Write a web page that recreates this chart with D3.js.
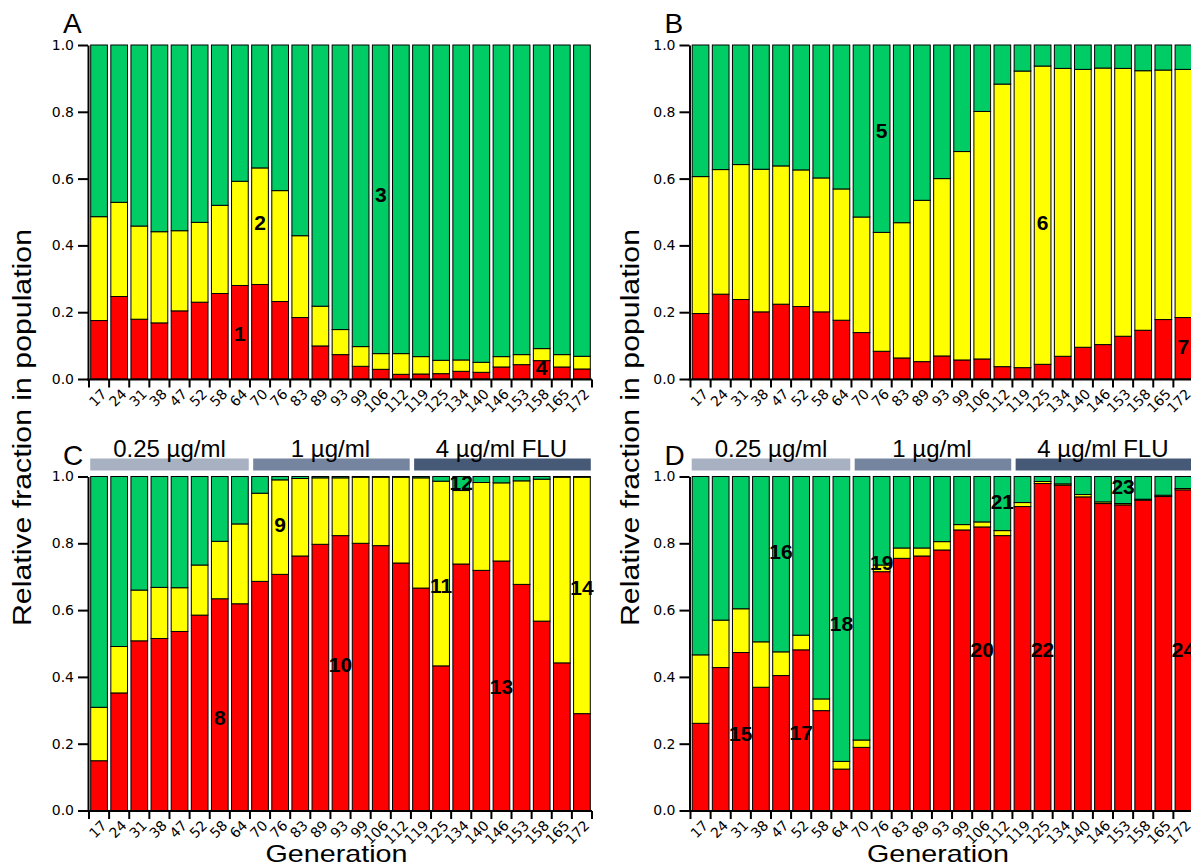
<!DOCTYPE html>
<html>
<head>
<meta charset="utf-8">
<script src="https://cdn.jsdelivr.net/npm/d3@7"></script>
<style>
  html, body { margin: 0; padding: 0; background: #fff; }
  svg { display: block; }
</style>
</head>
<body>
<svg id="chart" width="1191" height="866"></svg>
<script>
// ---------------- DATA ----------------
const generations = ["17","24","31","38","47","52","58","64","70","76","83","89","93","99","106","112","119","125","134","140","146","153","158","165","172"];
const yTickValues = [0, 0.2, 0.4, 0.6, 0.8, 1.0];
const seriesKeys = ["red", "yellow", "green"];

// Panel A
const redA    = [.175,.247,.179,.168,.204,.230,.256,.280,.283,.232,.184,.099,.073,.038,.029,.014,.015,.016,.023,.020,.036,.043,.055,.036,.030];
const yellowA = [.311,.282,.279,.273,.240,.239,.264,.312,.349,.332,.245,.119,.075,.059,.047,.062,.052,.040,.034,.030,.031,.030,.036,.037,.038];
const greenA  = [.514,.471,.542,.559,.556,.531,.480,.408,.368,.436,.571,.782,.852,.903,.924,.924,.933,.944,.943,.950,.933,.927,.909,.927,.932];
// Panel B
const redB    = [.196,.254,.238,.201,.224,.217,.201,.176,.139,.083,.063,.052,.069,.057,.060,.037,.034,.044,.068,.095,.103,.128,.146,.178,.184];
const yellowB = [.410,.373,.404,.427,.414,.409,.401,.393,.346,.356,.405,.483,.531,.624,.741,.846,.888,.893,.862,.832,.828,.802,.777,.747,.743];
const greenB  = [.394,.373,.358,.372,.362,.374,.398,.431,.515,.561,.532,.465,.400,.319,.199,.117,.078,.063,.070,.073,.069,.070,.077,.075,.073];
// Panel C
const redC    = [.149,.352,.508,.515,.536,.585,.634,.619,.686,.707,.762,.797,.823,.800,.793,.741,.666,.433,.738,.719,.747,.677,.567,.442,.290];
const yellowC = [.160,.139,.152,.153,.131,.150,.172,.239,.264,.283,.232,.199,.173,.198,.205,.257,.330,.553,.220,.263,.234,.310,.425,.556,.708];
const greenC  = [.691,.509,.340,.332,.333,.265,.194,.142,.050,.010,.006,.004,.004,.002,.002,.002,.004,.014,.042,.018,.019,.013,.008,.002,.002];
// Panel D
const redD    = [.261,.428,.473,.369,.404,.481,.299,.124,.189,.715,.755,.762,.780,.840,.849,.823,.910,.979,.974,.939,.919,.915,.929,.940,.960];
const yellowD = [.205,.142,.131,.136,.071,.044,.035,.023,.022,.020,.031,.024,.025,.016,.015,.015,.012,.006,.004,.007,.005,.004,.003,.004,.004];
const greenD  = [.534,.430,.396,.495,.525,.475,.666,.853,.789,.265,.214,.214,.195,.144,.136,.162,.078,.015,.022,.054,.076,.081,.068,.056,.036];

// Clone annotations: label, generation, y-position (fraction)
const labelsA = [["1","64",.137],["2","70",.468],["3","106",.553],["4","158",.034]];
const labelsB = [["5","76",.744],["6","125",.468],["7","172",.097]];
const labelsC = [["8","58",.278],["9","76",.855],["10","93",.438],["11","125",.673],["12","134",.983],["13","146",.37],["14","172",.668]];
const labelsD = [["15","31",.232],["16","47",.776],["17","52",.234],["18","64",.561],["19","76",.743],["20","106",.481],["21","112",.925],["22","125",.481],["23","153",.97],["24","172",.481]];

// Drug concentration phases (first and last generation of each)
const phaseNames = ["0.25 µg/ml", "1 µg/ml", "4 µg/ml FLU"];
const phaseStart = ["17", "70", "119"];
const phaseEnd   = ["64", "112", "172"];

// ---------------- STYLE ----------------
const colors = { red: "#ff0000", yellow: "#ffff00", green: "#00cc66" };
const phaseColors = ["#a8b1c1", "#76859f", "#465977"];
const svg = d3.select("#chart");

function buildRows(r, y, g) {
  return generations.map((gen, i) => ({ gen, red: r[i], yellow: y[i], green: g[i] }));
}

function drawPanel(opt) {
  const { x0, x1, yTop, yBot, rows, labels, letter, phases, showXTitle } = opt;
  const x = d3.scaleBand().domain(generations).range([x0, x1]).paddingInner(0.17).paddingOuter(0.085);
  const y = d3.scaleLinear().domain([0, 1]).range([yBot, yTop]);
  const g = svg.append("g");

  const stacked = d3.stack().keys(seriesKeys)(rows);
  g.selectAll("g.layer").data(stacked).join("g")
    .attr("fill", d => colors[d.key])
    .selectAll("rect").data(d => d).join("rect")
    .attr("x", d => x(d.data.gen))
    .attr("width", x.bandwidth())
    .attr("y", d => y(d[1]))
    .attr("height", d => Math.max(0, y(d[0]) - y(d[1])))
    .attr("stroke", "#000").attr("stroke-width", 1);

  // Y axis
  const yAxis = d3.axisLeft(y).tickValues(yTickValues).tickFormat(d3.format(".1f"))
    .tickSize(10).tickSizeOuter(0).tickPadding(4);
  const ga = g.append("g").attr("transform", `translate(${x0 - 1},0)`).call(yAxis);
  ga.select(".domain").attr("stroke-width", 2);
  ga.selectAll(".tick line").attr("stroke-width", 2);
  ga.selectAll(".tick text").attr("font-family", "DejaVu Sans, sans-serif").attr("font-size", 14).attr("fill", "#000");

  // X axis
  const step = x.step();
  const xAxis = d3.axisBottom(x).tickSize(0).tickSizeOuter(0).tickPadding(0);
  const gx = g.append("g").attr("transform", `translate(0,${yBot + 0.5})`).call(xAxis);
  gx.select(".domain").attr("stroke-width", 2).attr("d", `M${x0 - 2},0H${x1}`);
  gx.selectAll(".tick line").attr("x1", -step / 2).attr("x2", -step / 2).attr("y2", 8).attr("stroke-width", 2);
  gx.selectAll(".tick").filter((d, i, n) => i === n.length - 1)
    .append("line").attr("x1", step / 2).attr("x2", step / 2).attr("y2", 8).attr("stroke", "#000").attr("stroke-width", 2);
  gx.selectAll(".tick text")
    .attr("x", 0).attr("y", 0).attr("dy", "0.35em")
    .attr("transform", "translate(5,12) rotate(-45)")
    .attr("text-anchor", "end")
    .attr("font-family", "DejaVu Sans, sans-serif").attr("font-size", 14).attr("fill", "#000");

  // Clone labels
  g.selectAll("text.clone").data(labels).join("text")
    .attr("class", "clone")
    .attr("x", d => x(d[1]) + x.bandwidth() / 2)
    .attr("y", d => y(d[2]))
    .attr("dy", "0.36em")
    .attr("text-anchor", "middle")
    .attr("font-family", "Liberation Sans, Arial, sans-serif")
    .attr("font-weight", "bold").attr("font-size", 21)
    .attr("fill", "#000")
    .text(d => d[0]);

  // Panel letter
  g.append("text").attr("x", x0 - 26).attr("y", yTop - 12)
    .attr("font-family", "Liberation Sans, Arial, sans-serif").attr("font-size", 28)
    .text(letter);

  if (phases) {
    phaseNames.forEach((name, i) => {
      const a = x(phaseStart[i]) - 0.5, b = x(phaseEnd[i]) + x.bandwidth() + 0.5;
      g.append("rect").attr("x", a + (i > 0 ? 2 : 0)).attr("width", b - a - (i > 0 ? 2 : 0))
        .attr("y", yTop - 18).attr("height", 12).attr("fill", phaseColors[i]);
      g.append("text").attr("x", (a + b) / 2).attr("y", yTop - 20)
        .attr("text-anchor", "middle")
        .attr("font-family", "Liberation Sans, Arial, sans-serif").attr("font-size", 24)
        .text(name);
    });
  }
  if (showXTitle) {
    g.append("text").attr("x", (x0 + x1) / 2 - 4).attr("y", 862)
      .attr("text-anchor", "middle")
      .attr("font-family", "Liberation Sans, Arial, sans-serif").attr("font-size", 24)
      .attr("textLength", 142).attr("lengthAdjust", "spacingAndGlyphs")
      .text("Generation");
  }
}

drawPanel({ x0: 89, x1: 592, yTop: 45, yBot: 379, rows: buildRows(redA, yellowA, greenA), labels: labelsA, letter: "A" });
drawPanel({ x0: 690.5, x1: 1193.5, yTop: 45, yBot: 379, rows: buildRows(redB, yellowB, greenB), labels: labelsB, letter: "B" });
drawPanel({ x0: 89, x1: 592, yTop: 476.5, yBot: 810.5, rows: buildRows(redC, yellowC, greenC), labels: labelsC, letter: "C", phases: true, showXTitle: true });
drawPanel({ x0: 690.5, x1: 1193.5, yTop: 476.5, yBot: 810.5, rows: buildRows(redD, yellowD, greenD), labels: labelsD, letter: "D", phases: true, showXTitle: true });

// Y titles
[[31, 427.5], [639, 427.5]].forEach(([bx, cy]) => {
  svg.append("text")
    .attr("transform", `translate(${bx},${cy}) rotate(-90)`)
    .attr("text-anchor", "middle")
    .attr("font-family", "Liberation Sans, Arial, sans-serif").attr("font-size", 26)
    .attr("textLength", 397).attr("lengthAdjust", "spacingAndGlyphs")
    .text("Relative fraction in population");
});
</script>
</body>
</html>
